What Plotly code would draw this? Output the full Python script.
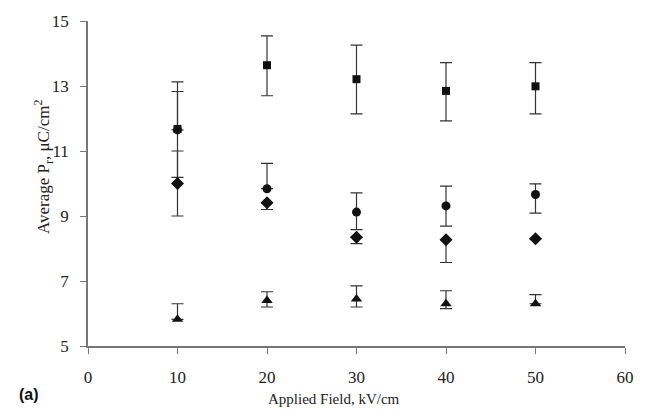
import plotly.graph_objects as go

field = [10, 20, 30, 40, 50]

square_vals = [11.68, 13.64, 13.21, 12.85, 12.99]
square_plus = [1.45, 0.90, 1.05, 0.87, 0.73]
square_minus = [1.49, 0.94, 1.07, 0.92, 0.85]

circle_vals = [11.65, 9.84, 9.12, 9.31, 9.66]
circle_plus = [1.18, 0.78, 0.59, 0.61, 0.33]
circle_minus = [0.0, 0.0, 0.54, 0.62, 0.57]

diamond_vals = [10.0, 9.41, 8.35, 8.27, 8.30]
diamond_plus = [1.0, 0.0, 0.0, 0.0, 0.0]
diamond_minus = [1.0, 0.21, 0.20, 0.70, 0.0]

triangle_vals = [5.82, 6.40, 6.45, 6.30, 6.30]
triangle_plus = [0.48, 0.27, 0.40, 0.40, 0.28]
triangle_minus = [0.0, 0.20, 0.25, 0.15, 0.0]

x_ticks = [0, 10, 20, 30, 40, 50, 60]
y_ticks = [5, 7, 9, 11, 13, 15]

series = [
    ("square", square_vals, square_plus, square_minus, 8),
    ("circle", circle_vals, circle_plus, circle_minus, 9),
    ("diamond", diamond_vals, diamond_plus, diamond_minus, 10),
    ("triangle-up", triangle_vals, triangle_plus, triangle_minus, 10),
]

fig = go.Figure()
for sym, vals, plus, minus, size in series:
    fig.add_trace(go.Scatter(
        x=field, y=vals, mode="markers",
        marker=dict(symbol=sym, size=size, color="#111111"),
        error_y=dict(type="data", symmetric=False, array=plus, arrayminus=minus,
                     color="#333333", thickness=1.2, width=6),
        showlegend=False,
    ))

serif = "Liberation Serif, Times New Roman, serif"
fig.update_layout(
    width=646, height=420,
    margin=dict(l=88, r=12, t=20, b=74),
    paper_bgcolor="white", plot_bgcolor="white",
    font=dict(family=serif, color="#222222"),
    xaxis=dict(range=[0, 60], tickvals=x_ticks, ticktext=[str(v) for v in x_ticks],
               showgrid=False, zeroline=False, showline=True, linecolor="#777777",
               linewidth=1.5, ticks="outside", ticklen=6, tickcolor="#777777",
               tickfont=dict(size=17, family=serif, color="#222222"),
               ticklabelstandoff=9),
    yaxis=dict(range=[5, 15], tickvals=y_ticks, ticktext=[str(v) for v in y_ticks],
               showgrid=False, zeroline=False, showline=True, linecolor="#777777",
               linewidth=1.5, ticks="outside", ticklen=6, tickcolor="#777777",
               tickfont=dict(size=17, family=serif, color="#222222"),
               ticklabelstandoff=8),
    annotations=[
        dict(text="Applied Field, kV/cm", x=338, y=409, xref="paper", yref="paper",
             showarrow=False, font=dict(size=15, family=serif, color="#222222")),
        dict(text="Average P<sub>r</sub>, μC/cm<sup>2</sup>", textangle=-90,
             x=28, y=166, showarrow=False,
             font=dict(size=17, family=serif, color="#222222")),
        dict(text="<b>(a)</b>", x=16, y=405, showarrow=False,
             font=dict(size=16, family="Liberation Sans, Arial, sans-serif", color="#111111")),
    ],
)

# convert pixel-based annotation positions into paper coordinates
pw, ph = 646 - 88 - 12, 420 - 20 - 74
for a in fig.layout.annotations:
    a.x = (a.x - 88) / pw
    a.y = 1 - (a.y - 20) / ph
    a.xref = "paper"
    a.yref = "paper"

fig.write_html("out.html")
